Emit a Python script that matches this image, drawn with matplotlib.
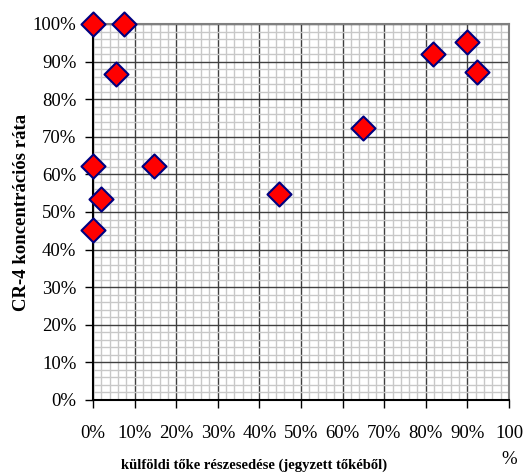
import matplotlib.pyplot as plt
from matplotlib.ticker import MultipleLocator, FuncFormatter

# foreign capital share (%) vs CR-4 concentration ratio (%)
kulfoldi_toke = [0.0, 7.5, 5.5, 0.0, 14.7, 1.9, 0.0, 44.6, 64.8, 81.7, 89.8, 92.2]
cr4_rata = [100.0, 100.0, 86.7, 62.2, 62.2, 53.4, 45.2, 54.8, 72.4, 92.0, 95.2, 87.3]

x_ticks = list(range(0, 101, 10))
x_tick_labels = [f"{v}%" for v in x_ticks[:-1]] + ["100\n%"]


def main():
    plt.rcParams['font.family'] = ['Liberation Serif', 'DejaVu Serif']
    fig = plt.figure(figsize=(5.27, 4.76), dpi=100)
    ax = fig.add_axes([93 / 527, 1 - 400 / 476, 416 / 527, 376 / 476])

    ax.scatter(kulfoldi_toke, cr4_rata, marker='D', s=150, c='#ff0000',
               edgecolors='#000080', linewidths=1.5, zorder=5, clip_on=False)

    ax.set_xlim(0, 100)
    ax.set_ylim(0, 100)
    ax.set_xticks(x_ticks)
    ax.set_xticklabels(x_tick_labels, fontsize=13.5, va='top', linespacing=1.7)
    ax.yaxis.set_major_locator(MultipleLocator(10))
    ax.yaxis.set_major_formatter(FuncFormatter(lambda v, p: f"{v:.0f}%"))
    ax.xaxis.set_minor_locator(MultipleLocator(2))
    ax.yaxis.set_minor_locator(MultipleLocator(2))
    ax.tick_params(axis='y', labelsize=13.5)
    ax.tick_params(which='major', direction='out', length=6, width=1, color='black')
    ax.tick_params(axis='y', which='major', pad=6)
    ax.tick_params(axis='x', which='major', pad=12)
    ax.tick_params(which='minor', length=0)

    ax.grid(True, which='minor', color='#c8c8c8', linewidth=1.0)
    ax.grid(True, which='major', color='#404040', linewidth=1.0)
    ax.set_axisbelow(True)

    for side in ['top', 'right']:
        ax.spines[side].set_color('#808080')
        ax.spines[side].set_linewidth(1.5)
    for side in ['left', 'bottom']:
        ax.spines[side].set_color('black')
        ax.spines[side].set_linewidth(1.5)

    ax.set_xlabel('külföldi tőke részesedése (jegyzett tőkéből)', fontsize=10.5,
                  fontweight='bold', va='center')
    ax.xaxis.set_label_coords((254 - 93) / 416, (400 - 465) / 376)
    ax.set_ylabel('CR-4 koncentrációs ráta', fontsize=13.5, fontweight='bold', labelpad=2)

    fig.savefig('out.png', dpi=100)


if __name__ == '__main__':
    main()
